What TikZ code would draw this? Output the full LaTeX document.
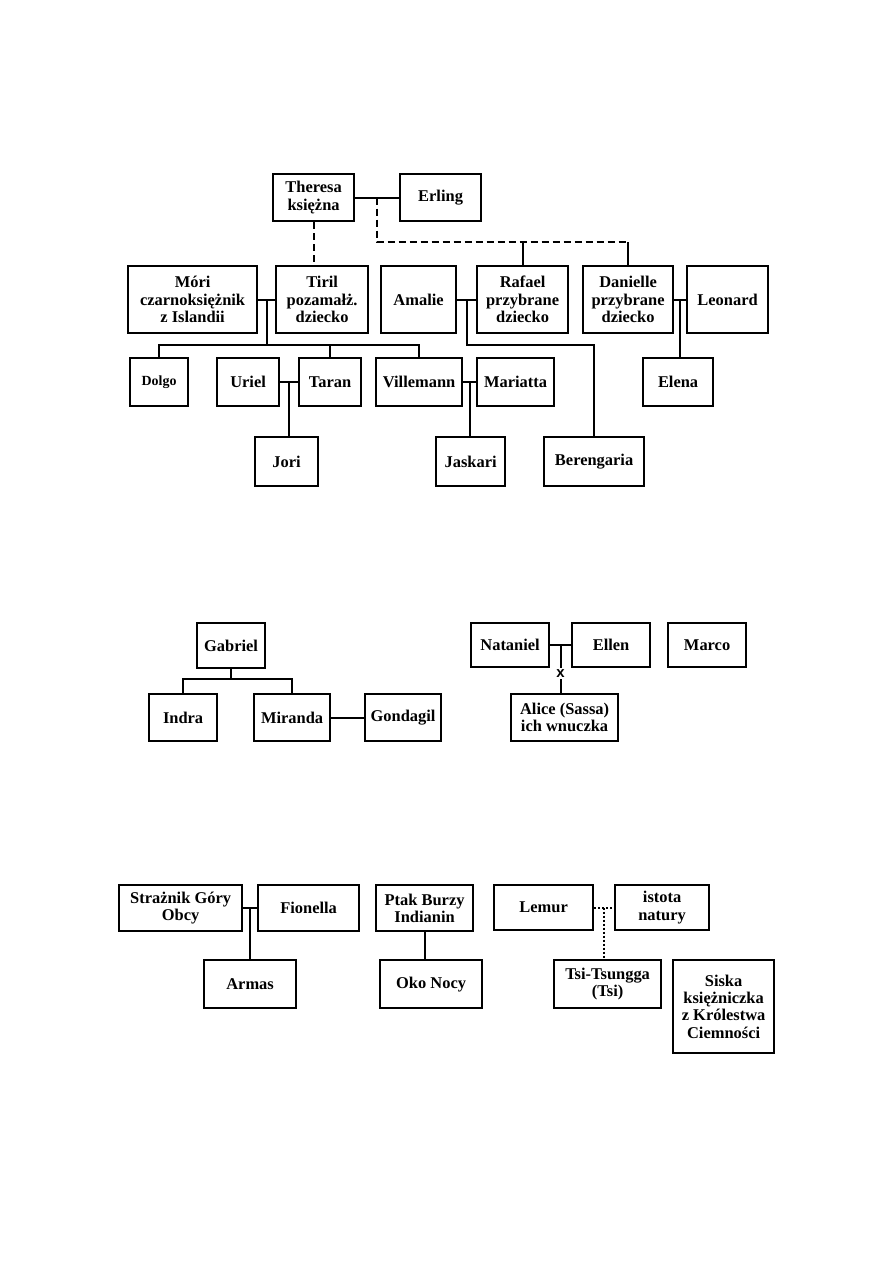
\documentclass[tikz,border=0pt]{standalone}
\usepackage{fontspec}
\setmainfont{Liberation Serif}
\setsansfont{Liberation Sans}
\usetikzlibrary{calc}

\tikzset{
  person/.style 2 args={draw, line width=2.2bp, inner sep=0pt, align=center,
    anchor=north west, minimum width=#1bp, minimum height=#2bp,
    font=\fontsize{16.5}{17.5}\selectfont\bfseries},
  tie/.style={line width=2bp},
  foster/.style={line width=2bp, dash pattern=on 7bp off 4bp},
  spirit/.style={line width=2bp, dash pattern=on 2bp off 2bp}
}

\begin{document}
\begin{tikzpicture}[x=1bp, y=-1bp]
  \useasboundingbox (0,0) rectangle (893,1263);

  % first family: Theresa and Erling
  \node[person={81}{47}] (theresa) at (272,173) {Theresa\\księżna};
  \node[person={81}{47}] (erling) at (399,173) {Erling};
  \node[person={129}{67}] (mori) at (127,265) {Móri\\czarnoksiężnik\\z Islandii};
  \node[person={92}{67}] (tiril) at (275,265) {Tiril\\pozamałż.\\dziecko};
  \node[person={75}{67}] (amalie) at (380,265) {Amalie};
  \node[person={91}{67}] (rafael) at (476,265) {Rafael\\przybrane\\dziecko};
  \node[person={90}{67}] (danielle) at (582,265) {Danielle\\przybrane\\dziecko};
  \node[person={81}{67}] (leonard) at (686,265) {Leonard};
  \node[person={58}{48}, font=\fontsize{14}{15}\selectfont\bfseries] (dolgo) at (129,357) {Dolgo};
  \node[person={62}{48}] (uriel) at (216,357) {Uriel};
  \node[person={62}{48}] (taran) at (298,357) {Taran};
  \node[person={86}{48}] (villemann) at (375,357) {Villemann};
  \node[person={77}{48}] (mariatta) at (476,357) {Mariatta};
  \node[person={70}{48}] (elena) at (642,357) {Elena};
  \node[person={63}{49}] (jori) at (254,436) {Jori};
  \node[person={69}{49}] (jaskari) at (435,436) {Jaskari};
  \node[person={100}{49}] (berengaria) at (543,436) {Berengaria};

  \draw[tie] (theresa.east) -- (erling.west);
  \coordinate (te) at ($(theresa.east)!0.5!(erling.west)$);
  \coordinate (adopt) at (danielle.north |- 0,242);
  \draw[foster] (te) |- (adopt);
  \draw[tie] (adopt) -- (danielle.north);
  \draw[tie] (rafael.north) -- (rafael.north |- adopt);
  \draw[foster] (theresa.south) -- (theresa.south |- tiril.north);

  \draw[tie] (mori.east) -- (tiril.west);
  \coordinate (mt) at ($(mori.east)!0.5!(tiril.west)$);
  \coordinate (kids) at (mt |- 0,345);
  \draw[tie] (mt) -- (kids);
  \draw[tie] (dolgo.north) |- (kids) -| (villemann.north);
  \draw[tie] (taran.north) -- (taran.north |- kids);

  \draw[tie] (uriel.east) -- (taran.west);
  \coordinate (ut) at ($(uriel.east)!0.5!(taran.west)$);
  \draw[tie] (ut) -- (ut |- jori.north);

  \draw[tie] (villemann.east) -- (mariatta.west);
  \coordinate (vm) at ($(villemann.east)!0.5!(mariatta.west)$);
  \draw[tie] (vm) -- (vm |- jaskari.north);

  \draw[tie] (amalie.east) -- (rafael.west);
  \coordinate (ar) at ($(amalie.east)!0.5!(rafael.west)$);
  \draw[tie] (ar) -- (ar |- kids) -| (berengaria.north);

  \draw[tie] (danielle.east) -- (leonard.west);
  \coordinate (dl) at ($(danielle.east)!0.5!(leonard.west)$);
  \draw[tie] (dl) -- (dl |- elena.north);

  % second row: Gabriel, Nataniel and Ellen, Marco
  \node[person={68}{45}] (gabriel) at (196,622) {Gabriel};
  \node[person={68}{47}] (indra) at (148,693) {Indra};
  \node[person={76}{47}] (miranda) at (253,693) {Miranda};
  \node[person={76}{47}] (gondagil) at (364,693) {Gondagil};
  \node[person={78}{44}] (nataniel) at (470,622) {Nataniel};
  \node[person={78}{44}] (ellen) at (571,622) {Ellen};
  \node[person={78}{44}] (marco) at (667,622) {Marco};
  \node[person={107}{47}] (alice) at (510,693) {Alice (Sassa)\\ich wnuczka};

  \coordinate (gk) at (gabriel.south |- 0,679);
  \draw[tie] (gabriel.south) -- (gk);
  \draw[tie] (indra.north) |- (gk) -| (miranda.north);
  \draw[tie] (miranda.east) -- (gondagil.west);

  \draw[tie] (nataniel.east) -- (ellen.west);
  \coordinate (ne) at ($(nataniel.east)!0.5!(ellen.west)$);
  \draw[tie] (ne) -- (ne |- alice.north)
    node[pos=0.59, fill=white, inner sep=1.5bp, font=\fontsize{15}{15}\selectfont\sffamily\bfseries] (lost) {x};

  % third row: Strażnik, Ptak Burzy, Lemur, Siska
  \node[person={123}{46}] (straznik) at (118,884) {Strażnik Góry\\Obcy};
  \node[person={101}{46}] (fionella) at (257,884) {Fionella};
  \node[person={92}{48}] (armas) at (203,959) {Armas};
  \node[person={97}{46}] (ptak) at (375,884) {Ptak Burzy\\Indianin};
  \node[person={102}{48}] (oko) at (379,959) {Oko Nocy};
  \node[person={99}{45}] (lemur) at (493,884) {Lemur};
  \node[person={94}{45}] (istota) at (614,884) {istota\\natury};
  \node[person={107}{48}] (tsi) at (553,959) {Tsi-Tsungga\\(Tsi)};
  \node[person={101}{93}] (siska) at (672,959) {Siska\\księżniczka\\z Królestwa\\Ciemności};

  \draw[tie] (straznik.east) -- (fionella.west);
  \coordinate (sf) at ($(straznik.east)!0.5!(fionella.west)$);
  \draw[tie] (sf) -- (sf |- armas.north);
  \draw[tie] (ptak.south) -- (ptak.south |- oko.north);
  \draw[spirit] (lemur.east) -- (istota.west);
  \coordinate (li) at ($(lemur.east)!0.5!(istota.west)$);
  \draw[spirit] (li) -- (li |- tsi.north);
\end{tikzpicture}
\end{document}
